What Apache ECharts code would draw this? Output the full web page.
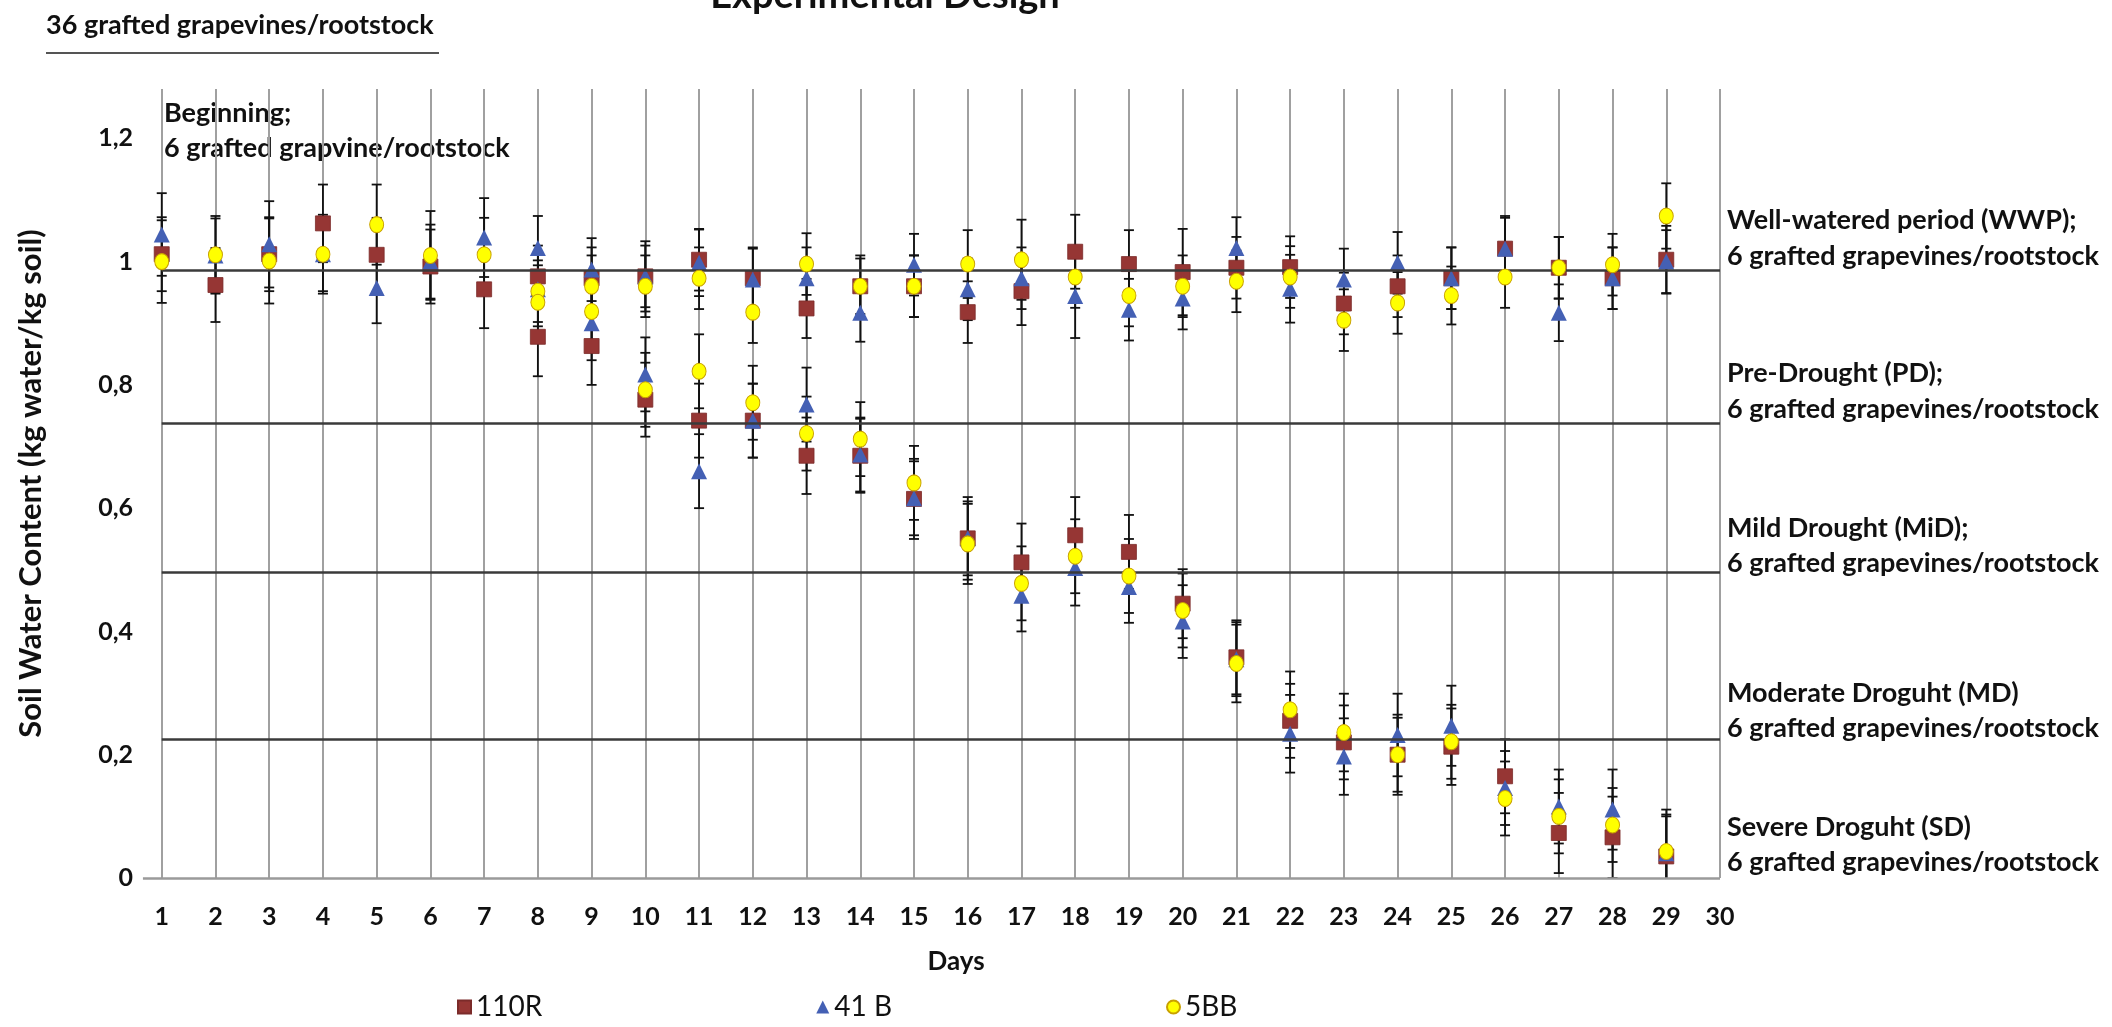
<!DOCTYPE html>
<html>
<head>
<meta charset="utf-8">
<title>Experimental Design - Soil Water Content</title>
<script src="https://cdn.jsdelivr.net/npm/echarts@6/dist/echarts.min.js"></script>
<style>
    html, body { margin: 0; padding: 0; background: #fff; }
    #chart { width: 2112px; height: 1027px; }
</style>
</head>
<body>
<div id="chart"></div>
<script>
// days of the experiment
var days = [1, 2, 3, 4, 5, 6, 7, 8, 9, 10, 11, 12, 13, 14, 15, 16, 17, 18, 19, 20, 21, 22, 23, 24, 25, 26, 27, 28, 29];
var droughtDays = [8, 9, 10, 11, 12, 13, 14, 15, 16, 17, 18, 19, 20, 21, 22, 23, 24, 25, 26, 27, 28, 29];

// well-watered plants (days 1-29)
var ctrl110R = [1.012, 0.962, 1.012, 1.062, 1.011, 0.992, 0.955, 0.976, 0.973, 0.976, 1.003, 0.973, 0.924, 0.960, 0.960, 0.918, 0.952, 1.016, 0.996, 0.983, 0.990, 0.991, 0.932, 0.960, 0.973, 1.021, 0.990, 0.973, 1.003];
var ctrl41B  = [1.044, 1.010, 1.028, 1.012, 0.957, 1.000, 1.039, 1.022, 0.987, 0.976, 0.998, 0.971, 0.973, 0.917, 0.995, 0.955, 0.973, 0.944, 0.922, 0.940, 1.022, 0.956, 0.971, 0.998, 0.973, 1.021, 0.917, 0.973, 1.000];
var ctrl5BB  = [1.000, 1.011, 1.001, 1.012, 1.060, 1.010, 1.011, 0.952, 0.960, 0.960, 0.973, 0.918, 0.996, 0.960, 0.960, 0.996, 1.003, 0.975, 0.945, 0.960, 0.968, 0.975, 0.905, 0.933, 0.945, 0.975, 0.990, 0.995, 1.074];
var ctrlErr110R = [0.060, 0.060, 0.060, 0.063, 0.060, 0.060, 0.063, 0.050, 0.050, 0.050, 0.050, 0.050, 0.048, 0.045, 0.050, 0.050, 0.055, 0.060, 0.055, 0.070, 0.050, 0.050, 0.050, 0.050, 0.050, 0.053, 0.050, 0.050, 0.055];
var ctrlErr41B  = [0.067, 0.060, 0.070, 0.060, 0.057, 0.060, 0.064, 0.052, 0.051, 0.057, 0.054, 0.050, 0.050, 0.047, 0.050, 0.050, 0.050, 0.068, 0.050, 0.050, 0.050, 0.055, 0.050, 0.050, 0.050, 0.050, 0.046, 0.050, 0.051];
var ctrlErr5BB  = [0.067, 0.063, 0.069, 0.064, 0.065, 0.072, 0.060, 0.050, 0.050, 0.050, 0.050, 0.050, 0.050, 0.050, 0.050, 0.055, 0.065, 0.050, 0.050, 0.050, 0.050, 0.050, 0.050, 0.050, 0.047, 0.050, 0.050, 0.050, 0.053];

// drought treatment (days 8-29)
var dry110R = [0.878, 0.863, 0.776, 0.742, 0.742, 0.685, 0.685, 0.615, 0.551, 0.512, 0.556, 0.529, 0.445, 0.358, 0.255, 0.220, 0.200, 0.213, 0.165, 0.073, 0.066, 0.035];
var dry41B  = [0.955, 0.900, 0.817, 0.660, 0.742, 0.768, 0.687, 0.616, 0.551, 0.458, 0.503, 0.472, 0.416, 0.355, 0.234, 0.197, 0.232, 0.247, 0.146, 0.116, 0.111, 0.040];
var dry5BB  = [0.934, 0.919, 0.792, 0.822, 0.771, 0.721, 0.712, 0.641, 0.542, 0.478, 0.522, 0.490, 0.434, 0.348, 0.273, 0.236, 0.200, 0.221, 0.129, 0.100, 0.086, 0.043];
var dryErr110R = [0.064, 0.063, 0.060, 0.060, 0.060, 0.062, 0.060, 0.065, 0.067, 0.063, 0.062, 0.060, 0.056, 0.060, 0.060, 0.060, 0.065, 0.062, 0.060, 0.065, 0.066, 0.068];
var dryErr41B  = [0.060, 0.060, 0.060, 0.060, 0.060, 0.060, 0.060, 0.060, 0.060, 0.058, 0.061, 0.058, 0.059, 0.060, 0.063, 0.062, 0.067, 0.065, 0.060, 0.060, 0.065, 0.060];
var dryErr5BB  = [0.060, 0.060, 0.060, 0.060, 0.060, 0.060, 0.060, 0.060, 0.065, 0.060, 0.060, 0.060, 0.060, 0.063, 0.062, 0.063, 0.060, 0.060, 0.060, 0.060, 0.060, 0.068];

// stage boundary lines (WWP, PD, MiD, MD)
var stageLines = [0.986, 0.737, 0.496, 0.225];

var rootstocks = ['110R', '41 B', '5BB'];
var yTicks = [0, 0.2, 0.4, 0.6, 0.8, 1, 1.2];

var chart = echarts.init(document.getElementById('chart'));
var FONT = 'Lato';

// [day, value, error] points for one rootstock
function points(ctrl, ctrlErr, dry, dryErr) {
    var arr = [];
    for (var i = 0; i < days.length; i++) {
        arr.push([days[i], ctrl[i], ctrlErr[i]]);
    }
    for (var j = 0; j < droughtDays.length; j++) {
        arr.push([droughtDays[j], dry[j], dryErr[j]]);
    }
    return arr;
}

var pts110R = points(ctrl110R, ctrlErr110R, dry110R, dryErr110R);
var pts41B = points(ctrl41B, ctrlErr41B, dry41B, dryErr41B);
var pts5BB = points(ctrl5BB, ctrlErr5BB, dry5BB, dryErr5BB);

// vertical error bar with caps
function errorBar(params, api) {
    var x = api.value(0), y = api.value(1), e = api.value(2);
    var top = api.coord([x, y + e]);
    var bot = api.coord([x, y - e]);
    var half = 5;
    var st = { stroke: '#111', lineWidth: 1.8 };
    return {
        type: 'group',
        children: [
            { type: 'line', shape: { x1: top[0], y1: top[1], x2: bot[0], y2: bot[1] }, style: st },
            { type: 'line', shape: { x1: top[0] - half, y1: top[1], x2: top[0] + half, y2: top[1] }, style: st },
            { type: 'line', shape: { x1: bot[0] - half, y1: bot[1], x2: bot[0] + half, y2: bot[1] }, style: st }
        ]
    };
}

function errSeries(name, data) {
    return {
        name: name + ' err',
        type: 'custom',
        renderItem: errorBar,
        data: data,
        clip: true,
        z: 2,
        silent: true
    };
}

var stageMarks = stageLines.map(function (v) {
    return [{ coord: [1, v] }, { coord: [30, v] }];
});
// x axis base line (starts a bit left of day 1)
stageMarks.push([{ coord: [0.65, 0], lineStyle: { color: '#9a9a9a', width: 2.5 } }, { coord: [30, 0] }]);

function label(text, x, y, size, weight, align, vAlign) {
    return {
        type: 'text',
        x: x,
        y: y,
        silent: true,
        style: {
            text: text,
            font: (weight || 'bold') + ' ' + size + 'px ' + FONT,
            fill: '#111',
            align: align || 'left',
            verticalAlign: vAlign || 'middle'
        }
    };
}

var option = {
    backgroundColor: '#fff',
    animation: false,
    grid: { left: 108, right: 392, top: 89, bottom: 149 },
    legend: {
        data: [
            { name: '110R', icon: 'rect' },
            { name: '41 B', icon: 'triangle' },
            { name: '5BB', icon: 'circle' }
        ],
        left: 452,
        top: 988,
        itemGap: 274,
        itemWidth: 13,
        itemHeight: 13,
        textStyle: { fontSize: 28, fontFamily: FONT, color: '#111' }
    },
    xAxis: {
        type: 'value',
        min: 0,
        max: 30,
        interval: 1,
        axisLine: { show: false },
        axisTick: { show: false },
        splitLine: { show: true, showMinLine: false, lineStyle: { color: '#a0a0a0', width: 2 } },
        axisLabel: {
            margin: 26,
            showMinLabel: false,
            fontSize: 25,
            fontWeight: 'bold',
            fontFamily: FONT,
            color: '#111',
            formatter: function (v) { return v === 0 ? '' : String(v); }
        }
    },
    yAxis: {
        type: 'value',
        min: 0,
        max: 1.28,
        interval: 0.2,
        offset: -35,
        name: 'Soil Water Content (kg water/kg soil)',
        nameLocation: 'middle',
        nameGap: 97,
        nameTextStyle: { fontSize: 31, fontWeight: 'bold', fontFamily: FONT, color: '#111' },
        axisLine: { show: false },
        axisTick: { show: false },
        splitLine: { show: false },
        axisLabel: {
            margin: 10,
            showMaxLabel: false,
            fontSize: 25,
            fontWeight: 'bold',
            fontFamily: FONT,
            color: '#111',
            formatter: function (v) {
                var r = Math.round(v * 10) / 10;
                if (yTicks.indexOf(r) < 0) return '';
                return String(r).replace('.', ',');
            }
        }
    },
    graphic: [
        label('Experimental Design', 885, 15, 38, 'bold', 'center', 'bottom'),
        label('36 grafted grapevines/rootstock', 46, 25, 27),
        { type: 'line', silent: true, shape: { x1: 46, y1: 53, x2: 439, y2: 53 }, style: { stroke: '#555', lineWidth: 2 } },
        label('Beginning;', 164, 113, 27),
        label('6 grafted grapvine/rootstock', 164, 148, 27),
        label('Days', 956, 962, 26, 'bold', 'center'),
        label('Well-watered period (WWP);', 1727, 220, 27),
        label('6 grafted grapevines/rootstock', 1727, 256, 27),
        label('Pre-Drought (PD);', 1727, 373, 27),
        label('6 grafted grapevines/rootstock', 1727, 409, 27),
        label('Mild Drought (MiD);', 1727, 528, 27),
        label('6 grafted grapevines/rootstock', 1727, 563, 27),
        label('Moderate Droguht (MD)', 1727, 693, 27),
        label('6 grafted grapevines/rootstock', 1727, 728, 27),
        label('Severe Droguht (SD)', 1727, 827, 27),
        label('6 grafted grapevines/rootstock', 1727, 862, 27)
    ],
    series: [
        {
            name: rootstocks[0],
            type: 'scatter',
            symbol: 'rect',
            symbolSize: 15,
            z: 3,
            itemStyle: { color: '#963634', borderColor: '#7b2b2a', borderWidth: 0.8, opacity: 1 },
            data: pts110R,
            markLine: {
                silent: true,
                symbol: 'none',
                label: { show: false },
                lineStyle: { color: '#3a3a3a', width: 2.5, type: 'solid' },
                data: stageMarks
            }
        },
        {
            name: rootstocks[1],
            type: 'scatter',
            symbol: 'triangle',
            symbolSize: 16,
            z: 4,
            itemStyle: { color: '#4460b4', opacity: 1 },
            data: pts41B
        },
        {
            name: rootstocks[2],
            type: 'scatter',
            symbol: 'circle',
            symbolSize: [14, 16],
            z: 5,
            itemStyle: { color: '#ffff00', borderColor: '#c8a000', borderWidth: 1, opacity: 1 },
            data: pts5BB
        },
        errSeries(rootstocks[0], pts110R),
        errSeries(rootstocks[1], pts41B),
        errSeries(rootstocks[2], pts5BB)
    ]
};

chart.setOption(option);
</script>
</body>
</html>
